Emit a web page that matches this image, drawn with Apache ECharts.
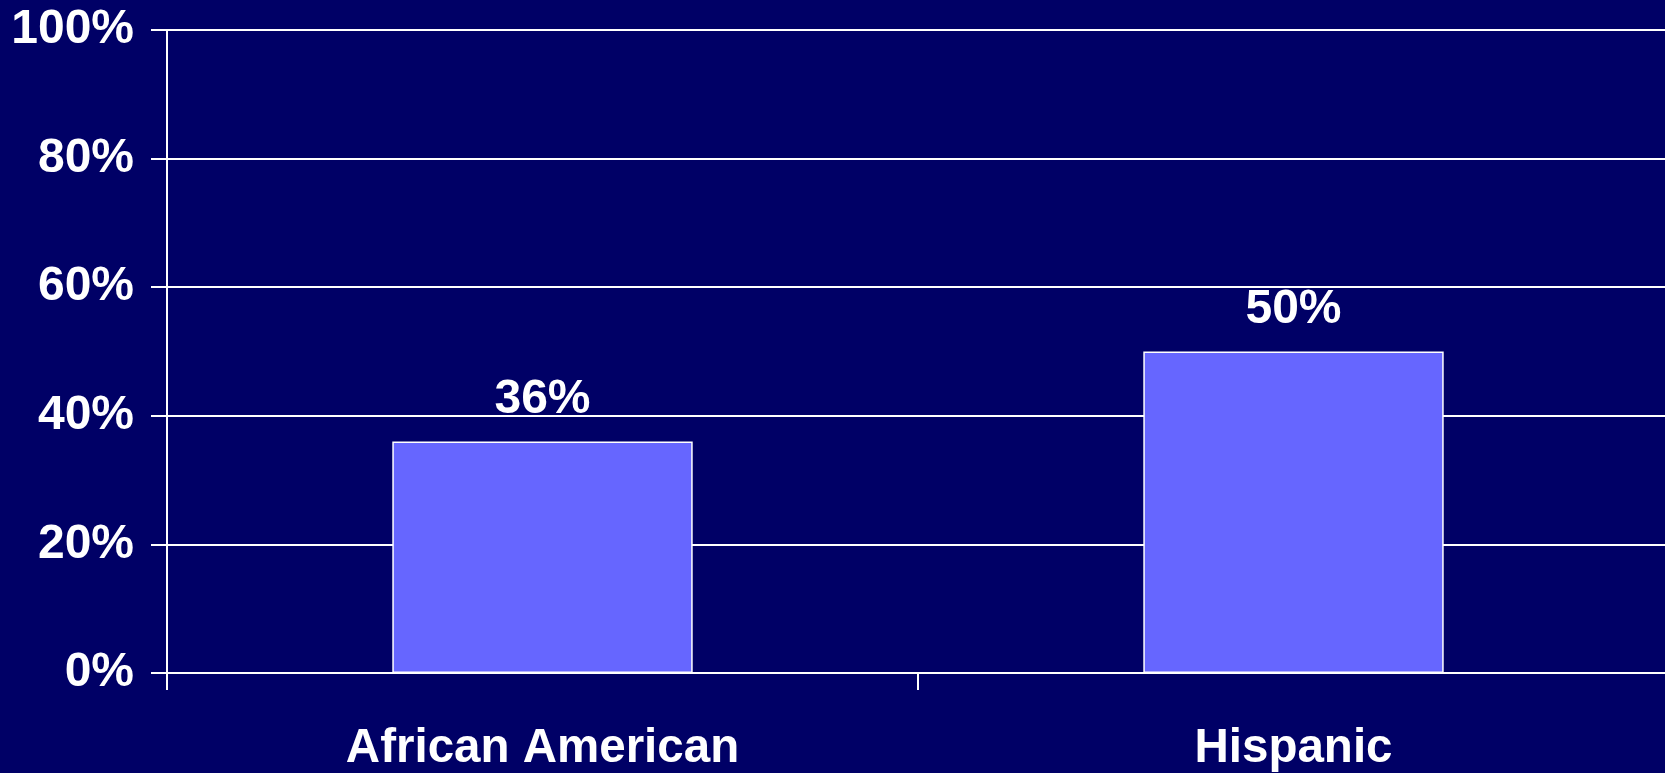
<!DOCTYPE html>
<html>
<head>
<meta charset="utf-8">
<script src="https://cdn.jsdelivr.net/npm/echarts@6/dist/echarts.min.js"></script>
<style>
html,body{margin:0;padding:0;background:#000066;overflow:hidden;width:1665px;height:773px;}
#chart{width:1690px;height:773px;}
</style>
</head>
<body>
<div id="chart"></div>
<script>
const categories = ["African American", "Hispanic"];
const values = [36, 50];
const yTicks = [0, 20, 40, 60, 80, 100];

const chart = echarts.init(document.getElementById('chart'), null, {renderer: 'canvas'});
const font = "'Liberation Sans', Arial, sans-serif";
chart.setOption({
  backgroundColor: '#000066',
  animation: false,
  grid: {left: 167, top: 30, bottom: 98, right: 21, containLabel: false},
  xAxis: {
    type: 'category',
    data: categories,
    axisLine: {show: true, lineStyle: {color: '#ffffff', width: 2}},
    axisTick: {show: true, length: 17, alignWithLabel: false, lineStyle: {color: '#ffffff', width: 2}},
    axisLabel: {color: '#ffffff', fontFamily: font, fontWeight: 'bold', fontSize: 47.5, lineHeight: 48, margin: 52}
  },
  yAxis: {
    type: 'value',
    min: yTicks[0],
    max: yTicks[yTicks.length - 1],
    interval: 20,
    axisLine: {show: true, lineStyle: {color: '#ffffff', width: 2}},
    axisTick: {show: true, length: 16, lineStyle: {color: '#ffffff', width: 2}},
    splitLine: {show: true, lineStyle: {color: '#ffffff', width: 2}},
    axisLabel: {color: '#ffffff', fontFamily: font, fontWeight: 'bold', fontSize: 48, margin: 33, formatter: '{value}%'}
  },
  series: [{
    type: 'bar',
    data: values,
    barWidth: '40%',
    itemStyle: {color: '#6666ff', borderColor: '#ffffff', borderWidth: 1.5},
    label: {show: true, position: 'top', distance: 18, color: '#ffffff', fontFamily: font, fontWeight: 'bold', fontSize: 48, lineHeight: 48, formatter: '{c}%'}
  }]
});
</script>
</body>
</html>
